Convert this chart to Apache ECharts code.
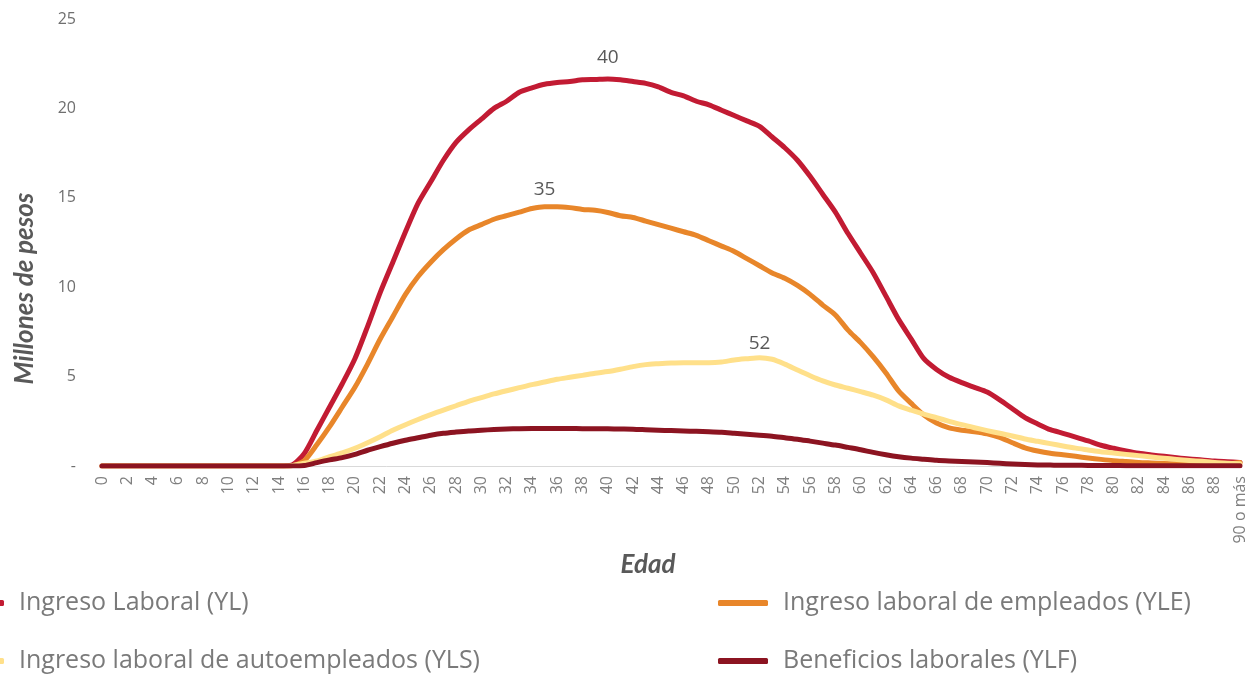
<!DOCTYPE html>
<html>
<head>
<meta charset="utf-8">
<script src="https://cdn.jsdelivr.net/npm/echarts@6/dist/echarts.min.js"></script>
<style>
html,body{margin:0;padding:0;background:#fff;}
#chart{width:1256px;height:677px;}
</style>
</head>
<body>
<div id="chart"></div>
<script>
// Categories: ages 0..89 and "90 o más"
var ages = [];
for (var i = 0; i < 90; i++) ages.push(String(i));
ages.push('90 o más');

var seriesNames = [
  'Ingreso Laboral (YL)',
  'Ingreso laboral de empleados (YLE)',
  'Ingreso laboral de autoempleados (YLS)',
  'Beneficios laborales (YLF)'
];

// Ingreso Laboral (YL), millones de pesos
var YL = [0,0,0,0,0,0,0,0,0,0, 0,0,0,0,0,0.05,0.7,2.0,3.3,4.6,
  6.0,7.8,9.7,11.4,13.1,14.7,15.9,17.1,18.1,18.8,
  19.4,20.0,20.4,20.9,21.15,21.35,21.45,21.5,21.6,21.62,
  21.65,21.6,21.5,21.4,21.2,20.9,20.7,20.4,20.2,19.9,
  19.6,19.3,19.0,18.4,17.8,17.1,16.2,15.2,14.2,13.0,
  11.9,10.8,9.5,8.2,7.1,6.0,5.4,4.96,4.66,4.4,
  4.14,3.7,3.2,2.7,2.35,2.03,1.83,1.62,1.4,1.16,
  0.99,0.84,0.71,0.62,0.54,0.46,0.39,0.34,0.28,0.24,0.2];

// Ingreso laboral de empleados (YLE)
var YLE = [0,0,0,0,0,0,0,0,0,0, 0,0,0,0,0,0.02,0.3,1.2,2.2,3.3,
  4.4,5.7,7.1,8.35,9.6,10.6,11.4,12.1,12.7,13.2,
  13.5,13.8,14.0,14.2,14.4,14.5,14.5,14.45,14.35,14.3,
  14.18,14.0,13.9,13.7,13.5,13.3,13.1,12.9,12.6,12.3,
  12.0,11.6,11.2,10.8,10.5,10.1,9.6,9.0,8.45,7.6,
  6.9,6.1,5.2,4.2,3.5,2.85,2.4,2.13,2.0,1.92,
  1.8,1.6,1.3,1.02,0.84,0.71,0.63,0.54,0.45,0.37,
  0.3,0.25,0.2,0.17,0.14,0.12,0.1,0.1,0.1,0.12,0.2];

// Ingreso laboral de autoempleados (YLS)
var YLS = [0,0,0,0,0,0,0,0,0,0, 0,0,0,0,0,0.02,0.15,0.28,0.52,0.73,
  0.99,1.3,1.64,2.0,2.31,2.6,2.87,3.12,3.37,3.62,
  3.82,4.03,4.21,4.38,4.55,4.7,4.85,4.96,5.07,5.19,
  5.28,5.41,5.56,5.67,5.72,5.76,5.78,5.78,5.78,5.82,
  5.93,6.0,6.06,5.97,5.7,5.37,5.05,4.76,4.53,4.35,
  4.16,3.96,3.7,3.36,3.12,2.9,2.7,2.5,2.31,2.14,
  1.98,1.83,1.68,1.51,1.38,1.25,1.12,1.0,0.9,0.8,
  0.73,0.65,0.58,0.5,0.43,0.37,0.31,0.26,0.2,0.16,0.12];

// Beneficios laborales (YLF)
var YLF = [0,0,0,0,0,0,0,0,0,0, 0,0,0,0,0,0,0.03,0.19,0.34,0.47,
  0.65,0.88,1.08,1.27,1.44,1.58,1.72,1.83,1.9,1.96,
  2.0,2.04,2.07,2.09,2.1,2.1,2.1,2.1,2.09,2.09,
  2.08,2.07,2.06,2.03,2.0,1.98,1.96,1.94,1.92,1.89,
  1.83,1.77,1.72,1.66,1.58,1.5,1.39,1.28,1.17,1.04,
  0.91,0.76,0.63,0.52,0.44,0.38,0.32,0.28,0.25,0.22,
  0.19,0.15,0.11,0.08,0.06,0.05,0.04,0.04,0.03,0.03,
  0.03,0.02,0.02,0.02,0.02,0.02,0.02,0.02,0.02,0.02,0.02];

// Peak annotations (age index)
var peakYL = 40, peakYLE = 35, peakYLS = 52;

var colors = ['#C21B33', '#E8862A', '#FFE08A', '#8C1421'];

var chart = echarts.init(document.getElementById('chart'), null, {renderer: 'canvas'});

function peakMark(idx, values, dy) {
  return {
    symbol: 'circle', symbolSize: 0,
    silent: true,
    label: {show: true, position: 'inside', offset: [0, -dy], color: '#595959',
      fontFamily: 'Open Sans', fontSize: 19, formatter: ages[idx]},
    data: [{coord: [ages[idx], values[idx]]}]
  };
}

function lineSeries(name, data, color, mark) {
  var s = {
    name: name, type: 'line', data: data,
    showSymbol: false, symbol: 'none', smooth: 0.25,
    lineStyle: {color: color, width: 5, cap: 'round', join: 'round'},
    itemStyle: {color: color},
    emphasis: {disabled: true}
  };
  if (mark) s.markPoint = mark;
  return s;
}

var legendText = {color: '#7a7a7a', fontFamily: 'Open Sans', fontSize: 25,
  lineHeight: 30, padding: [0, 0, 0, 10]};

chart.setOption({
  animation: false,
  color: colors,
  grid: {left: 102, right: 16, top: 19, bottom: 211, containLabel: false},
  legend: [{
    orient: 'vertical', left: -46, top: 588, padding: 0,
    icon: 'roundRect', itemWidth: 50, itemHeight: 6, itemGap: 28,
    textStyle: legendText,
    data: [seriesNames[0], seriesNames[2]]
  }, {
    orient: 'vertical', left: 718, top: 588, padding: 0,
    icon: 'roundRect', itemWidth: 50, itemHeight: 6, itemGap: 28,
    textStyle: legendText,
    data: [seriesNames[1], seriesNames[3]]
  }],
  xAxis: {
    type: 'category', data: ages, boundaryGap: false,
    name: 'Edad', nameLocation: 'middle', nameGap: 60,
    nameTextStyle: {fontFamily: 'Lato', fontWeight: 'bold', fontStyle: 'italic',
      fontSize: 26, color: '#595959', padding: [0, 46, 0, 0]},
    axisLine: {lineStyle: {color: '#d9d9d9', width: 1}},
    axisTick: {show: false},
    axisLabel: {interval: 1, rotate: 90, margin: 10, color: '#7f7f7f',
      fontFamily: 'Open Sans', fontSize: 16},
    splitLine: {show: false}
  },
  yAxis: {
    type: 'value', min: 0, max: 25, interval: 5,
    name: 'Millones de pesos', nameLocation: 'middle', nameGap: 64, nameRotate: 90,
    nameTextStyle: {fontFamily: 'Lato', fontWeight: 'bold', fontStyle: 'italic',
      fontSize: 26, color: '#595959', padding: [0, 92, 0, 0]},
    axisLine: {show: false},
    axisTick: {show: false},
    splitLine: {show: false},
    axisLabel: {margin: 26, color: '#6f6f6f', fontFamily: 'Open Sans', fontSize: 16,
      formatter: function (v) { return v === 0 ? '-' : String(v); }}
  },
  series: [
    lineSeries(seriesNames[0], YL, colors[0], peakMark(peakYL, YL, 21)),
    lineSeries(seriesNames[1], YLE, colors[1], peakMark(peakYLE, YLE, 17)),
    lineSeries(seriesNames[2], YLS, colors[2], peakMark(peakYLS, YLS, 14)),
    lineSeries(seriesNames[3], YLF, colors[3])
  ]
});
</script>
</body>
</html>
